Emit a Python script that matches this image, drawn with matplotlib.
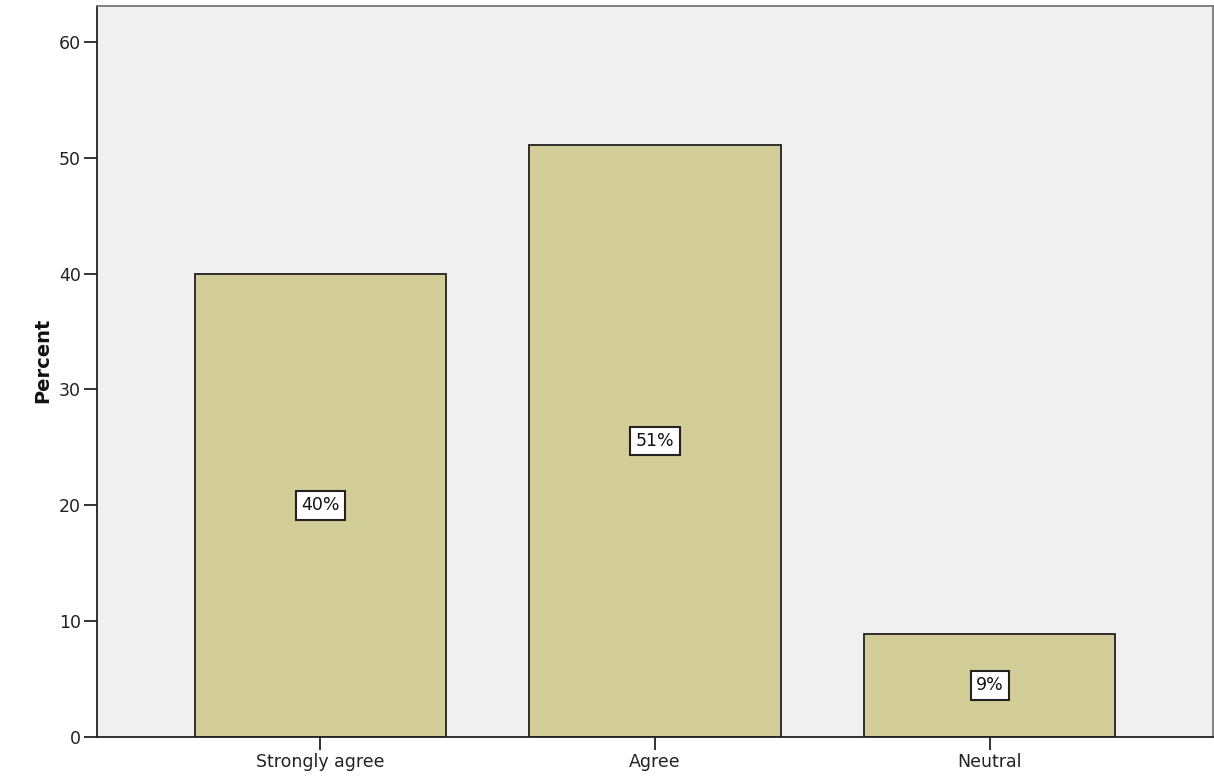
import matplotlib.pyplot as plt

categories = ['Strongly agree', 'Agree', 'Neutral']
percents = [40.0, 51.1, 8.9]
labels = ['40%', '51%', '9%']
yticks = [0, 10, 20, 30, 40, 50, 60]

plt.rcParams['font.family'] = ['DejaVu Sans']

fig = plt.figure(figsize=(12.14, 7.77), dpi=100)
ax = fig.add_axes([97 / 1214, 1 - 737 / 777, 1116 / 1214, 731 / 777])
ax.set_facecolor('#f0f0f0')

x = list(range(len(categories)))
ax.bar(x, percents, width=0.75, color='#d3cd97', edgecolor='#222222', linewidth=1.3, zorder=2)

# percent labels in the middle of each bar
for xi, p, lab in zip(x, percents, labels):
    ax.text(xi, p / 2, lab, ha='center', va='center', fontsize=12.5, color='#111111', zorder=3,
            bbox=dict(boxstyle='square,pad=0.3', facecolor='white', edgecolor='#222222', linewidth=1.5))

ax.set_xlim(-0.667, 2.667)
ax.set_ylim(0, 63.1)
ax.set_xticks(x)
ax.set_xticklabels(categories, fontsize=12.5, color='#222222')
ax.set_yticks(yticks)
ax.set_yticklabels([str(t) for t in yticks], fontsize=12.5, color='#222222')
ax.tick_params(axis='y', direction='out', length=9.5, width=1.3, color='#222222', pad=2)
ax.tick_params(axis='x', direction='out', length=9.5, width=1.3, color='#222222', pad=2)
fig.text(43 / 1214, 1 - 360 / 777, 'Percent', rotation=90, ha='center', va='center',
         fontsize=14, fontweight='bold', color='#111111')

for side in ['left', 'bottom']:
    ax.spines[side].set_color('#222222')
    ax.spines[side].set_linewidth(1.3)
for side in ['top', 'right']:
    ax.spines[side].set_color('#777777')
    ax.spines[side].set_linewidth(1.3)

fig.savefig('out.png', dpi=100)
